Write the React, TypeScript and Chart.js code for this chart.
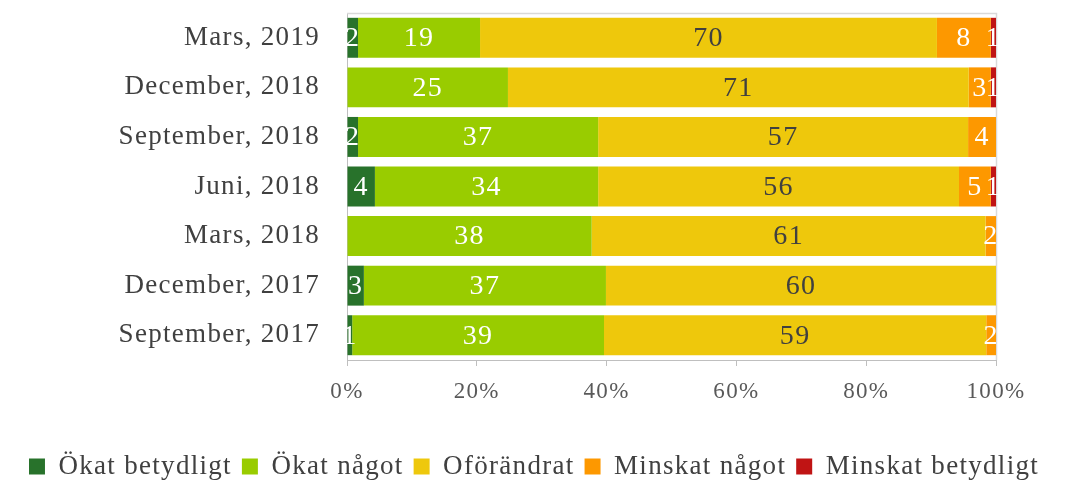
import React, { useEffect, useRef } from "react";
import { Chart, registerables } from "chart.js";

Chart.register(...registerables);

const categories = [
  "Mars, 2019",
  "December, 2018",
  "September, 2018",
  "Juni, 2018",
  "Mars, 2018",
  "December, 2017",
  "September, 2017",
];

const seriesNames = ["Ökat betydligt", "Ökat något", "Oförändrat", "Minskat något", "Minskat betydligt"];

const okatBetydligt = [1.7, 0, 1.7, 4.3, 0, 2.6, 0.8];
const okatNagot = [18.8, 24.8, 37.0, 34.4, 37.7, 37.3, 38.8];
const oforandrat = [70.4, 71.0, 57.0, 55.6, 60.7, 60.1, 58.9];
const minskatNagot = [8.3, 3.4, 4.3, 4.9, 1.6, 0, 1.5];
const minskatBetydligt = [0.8, 0.8, 0, 0.8, 0, 0, 0];

const seriesColors = ["#28722b", "#99cc00", "#eec80c", "#fd9800", "#c01414"];
const labelColors = ["#ffffff", "#ffffff", "#404040", "#ffffff", "#ffffff"];

const xTicks = [0, 20, 40, 60, 80, 100];

const FONT = "'Liberation Serif', 'Times New Roman', serif";
const SPACING = "1.3px";

const spacingPlugin = {
  id: "letterSpacing",
  beforeUpdate(chart: any) {
    chart.ctx.letterSpacing = SPACING;
  },
  beforeLayout(chart: any) {
    chart.ctx.letterSpacing = SPACING;
  },
  beforeDraw(chart: any) {
    chart.ctx.letterSpacing = SPACING;
  },
};

const barLabelPlugin = {
  id: "barLabels",
  afterDatasetsDraw(chart: any) {
    const ctx = chart.ctx;
    ctx.save();
    ctx.font = `28px ${FONT}`;
    ctx.textAlign = "center";
    ctx.textBaseline = "middle";
    chart.data.datasets.forEach((ds: any, di: number) => {
      const meta = chart.getDatasetMeta(di);
      meta.data.forEach((el: any, i: number) => {
        const v = ds.data[i];
        if (!v || v <= 0) return;
        const x = (el.x + el.base) / 2;
        ctx.fillStyle = labelColors[di];
        ctx.fillText(String(Math.round(v)), x, el.y + 1);
      });
    });
    ctx.restore();
  },
};

const borderPlugin = {
  id: "plotBorder",
  beforeDatasetsDraw(chart: any) {
    const { ctx, chartArea } = chart;
    ctx.save();
    ctx.strokeStyle = "#d9d9d9";
    ctx.lineWidth = 1.5;
    ctx.beginPath();
    ctx.moveTo(chartArea.left, chartArea.top + 0.5);
    ctx.lineTo(chartArea.right + 0.5, chartArea.top + 0.5);
    ctx.lineTo(chartArea.right + 0.5, chartArea.bottom);
    ctx.stroke();
    ctx.restore();
  },
};

export default function App() {
  const ref = useRef<HTMLCanvasElement>(null);

  useEffect(() => {
    if (!ref.current) return;
    const all = [okatBetydligt, okatNagot, oforandrat, minskatNagot, minskatBetydligt];
    const chart = new Chart(ref.current, {
      type: "bar",
      data: {
        labels: categories,
        datasets: all.map((d, i) => ({
          label: seriesNames[i],
          data: d,
          backgroundColor: seriesColors[i],
          borderWidth: 0,
          barPercentage: 0.806,
          categoryPercentage: 1,
        })),
      },
      options: {
        indexAxis: "y",
        animation: false,
        responsive: true,
        maintainAspectRatio: false,
        layout: { padding: { top: 13, right: 0, left: 0, bottom: -9 } },
        scales: {
          x: {
            stacked: true,
            min: 0,
            max: 100,
            afterBuildTicks(scale: any) {
              scale.ticks = xTicks.map((v) => ({ value: v }));
            },
            afterFit(scale: any) {
              scale.height = 83;
              scale.paddingLeft = 0;
              scale.paddingRight = 0;
            },
            ticks: {
              callback: (v: any) => `${v}%`,
              font: { family: FONT, size: 23 },
              color: "#595959",
              padding: 12,
            },
            grid: {
              display: true,
              drawOnChartArea: false,
              drawTicks: true,
              tickLength: 6,
              color: "#bfbfbf",
            },
            border: { display: true, color: "#bfbfbf" },
          },
          y: {
            stacked: true,
            afterFit(scale: any) {
              scale.width = 347;
              scale.paddingTop = 0;
              scale.paddingBottom = 0;
            },
            ticks: {
              font: { family: FONT, size: 27 },
              color: "#404040",
              padding: 27,
            },
            grid: { display: false, drawTicks: false },
            border: { display: true, color: "#bfbfbf" },
          },
          yRight: {
            type: "category",
            position: "right",
            display: true,
            afterFit(scale: any) {
              scale.width = 72;
              scale.paddingTop = 0;
              scale.paddingBottom = 0;
            },
            ticks: { display: false },
            grid: { display: false, drawTicks: false },
            border: { display: false },
          },
        },
        plugins: {
          legend: {
            position: "bottom",
            labels: {
              boxWidth: 16,
              boxHeight: 16,
              font: { family: FONT, size: 27 },
              color: "#404040",
              padding: 10,
            },
          },
          tooltip: { enabled: false },
        },
      },
      plugins: [spacingPlugin, barLabelPlugin, borderPlugin],
    });
    return () => chart.destroy();
  }, []);

  return (
    <div style={{ position: "fixed", left: 0, top: 0, width: 1068, height: 481, background: "#fff" }}>
      <canvas ref={ref} />
    </div>
  );
}
